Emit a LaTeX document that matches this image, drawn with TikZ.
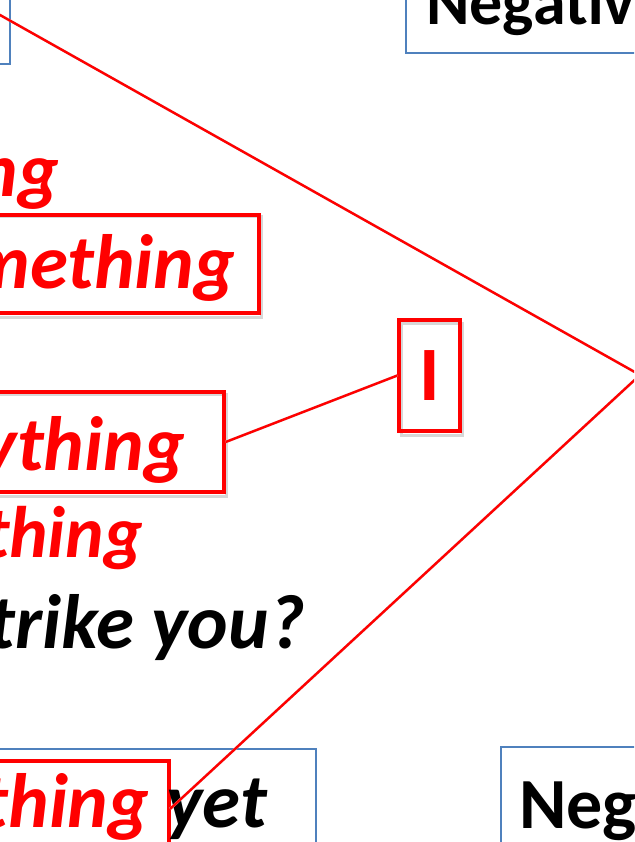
\documentclass[tikz,border=0pt]{standalone}
\usepackage{fontspec}
\setmainfont{Carlito}
\definecolor{officeblue}{RGB}{79,129,189}
\definecolor{pptred}{RGB}{255,0,0}
\definecolor{shade}{RGB}{215,215,215}
\begin{document}
\begin{tikzpicture}[x=1pt,y=-1pt,
  bigfont/.style={font=\fontsize{77}{84}\selectfont\bfseries\itshape},
  redtxt/.style={bigfont,text=pptred,inner sep=0pt,anchor=base east},
  blacktxt/.style={bigfont,text=black,inner sep=0pt,anchor=base east},
  headtxt/.style={text=black,inner sep=0pt,anchor=base west},
  redbox/.style={draw=pptred,line width=3.3pt,inner sep=0pt},
  bluebox/.style={draw=officeblue,line width=1.5pt,inner sep=0pt},
  link/.style={draw=pptred,line width=2.4pt},
  shadowline/.style={draw=shade,line width=2.6pt}]
\useasboundingbox (0,0) rectangle (634,842);
\clip (0,0) rectangle (634,842);
\fill[white] (0,0) rectangle (634,842);
% blue boxes
\node[bluebox,minimum width=310pt,minimum height=164pt] (tlbox) at (-145,-18) {};
\node[bluebox,minimum width=400pt,minimum height=153pt] (trbox) at (606,-23.5) {};
\node[bluebox,minimum width=616pt,minimum height=151pt] (blbox) at (8,824.5) {};
\node[bluebox,minimum width=400pt,minimum height=153pt] (brbox) at (701,823.5) {};
% shadows of red boxes
\draw[shadowline,line width=3pt] (-201,217) rectangle (261,317);
\draw[shadowline,line width=3pt] (-198,394) rectangle (226,496);
\draw[shadowline,line width=3pt] (401,323) rectangle (462,435);
% red boxes
\node[redbox,minimum width=460pt,minimum height=98pt] (methbox) at (29,264) {};
\node[redbox,minimum width=424pt,minimum height=100pt] (anybox) at (12,442) {};
\node[redbox,minimum width=368pt,minimum height=139pt] (thingbox) at (-15,830.5) {};
\node[redbox,minimum width=61pt,minimum height=111pt,font=\fontsize{77}{84}\selectfont\bfseries,text=pptred] (ibox) at (429.5,375.5) {I};
% texts
\node[redtxt] (t1) at (59,197) {ng};
\node[redtxt] (t2) at (235,288) {mething};
\node[redtxt] (t3) at (185,470) {ything};
\node[redtxt,font=\fontsize{73}{80}\selectfont\bfseries\itshape] (t4) at (143,557) {thing};
\node[blacktxt] (t5) at (305,648) {trike you?};
\node[blacktxt] (t6) at (267,827) {\textcolor{pptred}{thing} yet};
\node[headtxt,font=\fontsize{66}{72}\selectfont\bfseries] (h1) at (426,25) {Negativ};
\node[headtxt,font=\fontsize{72}{80}\selectfont\bfseries] (h2) at (519,828) {Neg};
% connectors
\coordinate (apex) at (640,375);
\coordinate (start) at (-40,-7.5);
\coordinate (lowend) at (170,809);
\begin{scope}[shift={(1.5,3)}]
\draw[shadowline] (start) -- (apex) -- (lowend);
\draw[shadowline] (ibox.west) -- (anybox.east);
\end{scope}
\draw[link] (start) -- (apex) -- (lowend);
\draw[link] (ibox.west) -- (anybox.east);
\end{tikzpicture}
\end{document}
